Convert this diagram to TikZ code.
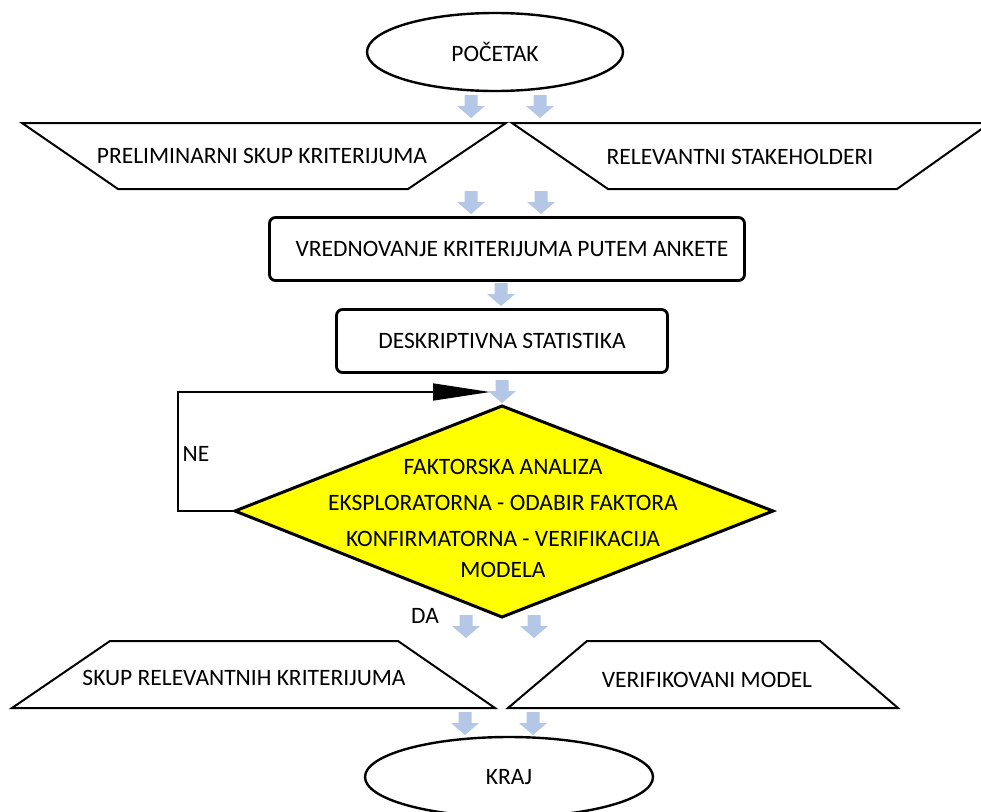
\documentclass[tikz,border=0pt]{standalone}
\usepackage{fontspec}
\setmainfont{Carlito}
\usetikzlibrary{shapes.geometric,arrows.meta}
\definecolor{arrowblue}{RGB}{180,199,231}
\definecolor{decisionyellow}{RGB}{255,255,0}
\begin{document}
\begin{tikzpicture}[x=1pt,y=-1pt,
  every node/.style={font=\fontsize{23.5}{27}\selectfont},
  lbl/.style={inner sep=0pt, anchor=center},
  terminal/.style={draw, ellipse, line width=2.4pt, inner sep=0pt},
  databox/.style={draw, line width=2pt, line join=miter},
  procbox/.style={draw, line width=2.8pt, rounded corners=6pt, inner sep=0pt},
  decision/.style={draw, line width=3pt, fill=decisionyellow, line join=miter},
  loopline/.style={line width=1.5pt, -{Triangle[length=57pt,width=17pt]}},
  barrow/.pic={\fill[arrowblue] (-6.5,0) -- (6.5,0) -- (6.5,11) -- (14,11) -- (0,23)
      -- (-14,11) -- (-6.5,11) -- cycle;}]
\useasboundingbox (0,0) rectangle (981,811);

% start and end
\node[terminal, minimum width=256pt, minimum height=78pt] (start) at (495,52) {POČETAK};
\node[terminal, minimum width=288pt, minimum height=80pt] (end) at (509,777) {KRAJ};

% input data (upper pair)
\draw[databox] (22,123) -- (506,123) -- (408,189) -- (118,189) -- cycle;
\node[lbl] (prelim) at (262,156) {PRELIMINARNI SKUP KRITERIJUMA};
\draw[databox] (512,123) -- (990,123) -- (897,189) -- (608,189) -- cycle;
\node[lbl] (stake) at (740,157) {RELEVANTNI STAKEHOLDERI};

% processing steps
\node[procbox, minimum width=475pt, minimum height=63pt] (survey) at (507,249) {};
\node[lbl] (surveytxt) at (512,249) {VREDNOVANJE KRITERIJUMA PUTEM ANKETE};
\node[procbox, minimum width=331pt, minimum height=63pt] (stats) at (502,341) {DESKRIPTIVNA STATISTIKA};

% factor analysis decision
\draw[decision] (502,406) -- (773,511) -- (502,617) -- (235,511) -- cycle;
\coordinate (dwest) at (235,511);
\node[lbl, align=center] (factor) at (503,518)
  {FAKTORSKA ANALIZA\\[9pt]EKSPLORATORNA - ODABIR FAKTORA\\[9pt]KONFIRMATORNA - VERIFIKACIJA\\[4pt]MODELA};

% NE loop back to the decision
\coordinate (loopend) at (490,392);
\draw[loopline] (dwest) -- (178,511) |- (loopend);
\node[lbl] (ne) at (196,454) {NE};
\node[lbl] (da) at (425,616) {DA};

% output data (lower pair)
\draw[databox] (110,641) -- (398,641) -- (495,708) -- (12,708) -- cycle;
\node[lbl] (skup) at (244,678) {SKUP RELEVANTNIH KRITERIJUMA};
\draw[databox] (587,641) -- (820,641) -- (898,708) -- (508,708) -- cycle;
\node[lbl] (model) at (707,680) {VERIFIKOVANI MODEL};

% block arrows between stages
\pic at (471,95) {barrow};
\pic at (540,95) {barrow};
\pic at (471,191) {barrow};
\pic at (541,191) {barrow};
\pic at (501,283) {barrow};
\pic at (502,380) {barrow};
\pic at (466,615) {barrow};
\pic at (534,615) {barrow};
\pic at (465,712) {barrow};
\pic at (533,712) {barrow};
\end{tikzpicture}
\end{document}
